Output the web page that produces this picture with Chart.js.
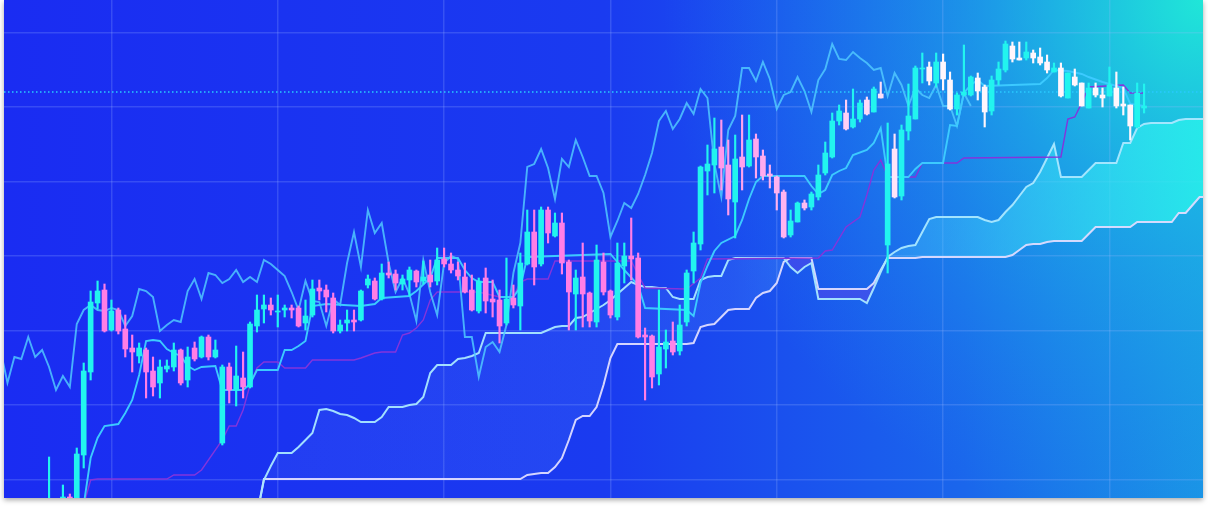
<!DOCTYPE html>
<html>
<head>
<meta charset="utf-8">
<script src="https://cdn.jsdelivr.net/npm/chart.js@4.4.1/dist/chart.umd.min.js"></script>
<style>
  html, body { margin: 0; padding: 0; background: #ffffff; }
  body { width: 1208px; height: 508px; overflow: hidden; position: relative; }
  #frame { position: absolute; left: 4px; top: 0; width: 1199px; height: 498px;
           box-shadow: 0 2px 5px rgba(0, 0, 0, 0.35); }
</style>
</head>
<body>
<div id="frame"><canvas id="chart"></canvas></div>
<script>
// candle data, one entry per period (index 0..158)
const opens = [
  85, 80, 90, 103, 95, 145, 228, 297, 310, 270,
  290, 271, 252, 244, 250, 229, 217, 231, 233, 250,
  220, 252, 243, 263, 243, 157, 233, 210, 222, 213,
  274, 291, 295, 288, 290, 292, 292, 277, 285, 312,
  310, 302, 269, 277, 280, 280, 315, 319, 301, 327,
  326, 316, 320, 329, 319, 325, 319, 341, 336, 330,
  323, 310, 289, 322, 301, 300, 277, 302, 294, 336,
  368, 336, 390, 364, 377, 338, 306, 323, 307, 278,
  338, 309, 283, 334, 344, 342, 265, 264, 226, 251,
  259, 249, 278, 329, 356, 429, 435, 453, 435, 398,
  443, 434, 461, 444, 426, 423, 408, 365, 378, 397,
  393, 403, 427, 443, 479, 487, 473, 481, 500, 488,
  506, 355, 451, 404, 469, 481, 531, 533, 517, 538,
  520, 491, 505, 505, 522, 513, 489, 520, 530, 554,
  542, 542, 547, 543, 538, 528, 532, 502, 523, 517,
  492, 512, 505, 504, 512, 496, 495, 473, 492
];
const highs = [
  143, 98, 115, 106, 152, 237, 309, 319, 316, 300,
  292, 285, 265, 257, 252, 243, 240, 240, 257, 251,
  253, 258, 264, 265, 260, 235, 237, 254, 248, 278,
  305, 305, 302, 305, 295, 295, 294, 300, 320, 320,
  315, 307, 280, 290, 290, 310, 325, 322, 336, 338,
  330, 325, 333, 330, 339, 340, 352, 352, 347, 338,
  337, 325, 322, 332, 320, 310, 342, 315, 347, 390,
  390, 393, 393, 387, 387, 340, 330, 357, 308, 355,
  347, 310, 357, 357, 382, 347, 272, 265, 310, 270,
  278, 295, 330, 368, 434, 455, 482, 480, 460, 465,
  485, 485, 466, 450, 435, 424, 410, 390, 398, 400,
  408, 435, 458, 487, 495, 500, 511, 500, 503, 513,
  518, 477, 466, 475, 516, 534, 547, 538, 547, 546,
  528, 507, 555, 524, 527, 515, 524, 538, 559, 558,
  558, 558, 550, 552, 545, 537, 537, 527, 531, 517,
  517, 517, 512, 533, 528, 513, 495, 517, 516
];
const lows = [
  80, 31, 33, 55, 80, 132, 220, 291, 268, 269,
  266, 243, 228, 237, 202, 204, 202, 228, 229, 215,
  213, 239, 242, 240, 242, 155, 197, 194, 202, 212,
  268, 277, 285, 273, 283, 282, 273, 270, 283, 300,
  288, 267, 267, 269, 269, 279, 312, 300, 300, 322,
  310, 310, 304, 313, 316, 313, 315, 333, 327, 320,
  307, 289, 287, 287, 283, 257, 275, 292, 270, 335,
  315, 334, 357, 363, 326, 270, 270, 273, 273, 273,
  305, 282, 280, 317, 320, 262, 200, 212, 215, 232,
  245, 245, 274, 317, 350, 405, 407, 410, 385, 362,
  410, 433, 422, 420, 412, 390, 362, 363, 378, 390,
  390, 400, 425, 442, 475, 470, 472, 478, 485, 488,
  502, 327, 402, 400, 460, 481, 517, 515, 513, 510,
  490, 485, 504, 504, 500, 473, 485, 515, 528, 538,
  540, 540, 537, 535, 527, 528, 503, 502, 514, 494,
  492, 503, 493, 504, 492, 485, 460, 472, 487
];
const closes = [
  95, 92, 103, 92, 146, 229, 298, 309, 269, 289,
  269, 251, 248, 252, 228, 213, 233, 234, 250, 217,
  243, 241, 263, 243, 250, 233, 210, 224, 213, 276,
  290, 295, 290, 289, 292, 290, 274, 284, 311, 309,
  303, 269, 275, 280, 278, 309, 321, 301, 327, 325,
  317, 321, 330, 318, 323, 318, 340, 336, 330, 324,
  308, 290, 319, 299, 298, 274, 301, 295, 337, 368,
  333, 390, 367, 377, 337, 308, 322, 306, 279, 340,
  308, 285, 337, 344, 341, 263, 263, 223, 253, 258,
  248, 275, 327, 357, 433, 436, 451, 432, 401, 441,
  433, 460, 443, 424, 424, 407, 363, 379, 397, 392,
  406, 425, 447, 479, 489, 471, 481, 497, 486, 511,
  502, 436, 403, 470, 484, 532, 532, 519, 538, 521,
  491, 505, 508, 523, 509, 488, 520, 531, 556, 541,
  540, 548, 542, 537, 530, 532, 504, 527, 515, 494,
  512, 505, 502, 515, 494, 494, 474, 507, 494
];

// conversion line (tenkan) and base line (kijun), read at their corners
const tenkanX = [4, 5, 6, 7, 8, 10, 11, 12, 13, 14, 15, 16, 17, 18, 19, 20, 21, 22, 24, 25,
  28, 29, 30, 33, 34, 35, 36, 37, 38, 40, 45, 47, 48, 52, 53, 55, 56, 59, 60, 61,
  62, 64, 65, 67, 68, 69, 81, 82, 83, 85, 86, 92, 93, 94, 95, 96, 97, 99, 100, 101,
  102, 103, 109, 110, 111, 112, 113, 114, 115, 116, 118, 119, 120, 121, 124, 125, 126, 129, 130, 131,
  132, 133, 134, 135, 143, 144, 145, 147, 149, 150, 152, 154, 155, 156, 158];
const tenkanY = [70, 95, 142, 162, 174, 176, 187, 200, 225, 259, 260, 259, 251, 247, 244, 234, 230, 233, 234, 210,
  210, 216, 230, 230, 250, 250, 254, 259, 294, 296, 294, 296, 302, 304, 309, 322, 342, 342, 330, 322,
  318, 318, 303, 303, 313, 343, 346, 338, 330, 315, 292, 290, 284, 317, 334, 349, 357, 364, 380, 401,
  418, 424, 424, 414, 406, 410, 425, 429, 432, 445, 450, 457, 472, 423, 423, 431, 437, 437, 475, 474,
  507, 515, 520, 514, 516, 522, 530, 529, 526, 523, 518, 514, 512, 496, 494];

const kijunX = [4, 5, 6, 7, 17, 18, 21, 22, 25, 26, 27, 28, 29, 30, 31, 33, 34, 37, 38, 44,
  45, 47, 48, 50, 51, 52, 53, 54, 55, 56, 62, 65, 67, 68, 69, 72, 73, 84, 86, 92,
  94, 95, 111, 112, 113, 115, 117, 118, 119, 120, 121, 122, 125, 126, 131, 132, 146, 147, 148, 149,
  150, 155, 156, 158];
const kijunY = [60, 95, 120, 121, 121, 125, 125, 130, 160, 174, 174, 190, 215, 232, 238, 238, 232, 232, 240, 240,
  242, 247, 248, 248, 265, 267, 272, 280, 300, 308, 308, 303, 303, 318, 321, 321, 339, 339, 312, 311,
  322, 341, 342, 349, 350, 373, 383, 405, 430, 440, 424, 423, 423, 437, 437, 442, 443, 481, 483, 497,
  513, 515, 507, 507];

// leading spans, one value per period from index 30 to 167
const spanStart = 30;
const spanA = [
  85, 120, 134, 147, 147, 147, 153, 160, 167, 190,
  191, 189, 186, 185, 182, 178, 178, 178, 183, 193,
  193, 193, 195, 196, 203, 227, 235, 235, 235, 241,
  242, 244, 247, 267, 267, 267, 267, 267, 267, 267,
  267, 267, 270, 273, 274, 274, 282, 283, 287, 291,
  295, 300, 306, 312, 318, 315, 313, 313, 312, 312,
  303, 301, 301, 301, 320, 323, 324, 324, 340, 342,
  342, 342, 342, 342, 342, 342, 342, 333, 327, 333,
  337, 301, 301, 301, 301, 301, 301, 301, 297, 312,
  328, 343, 348, 352, 354, 355, 368, 381, 383, 383,
  383, 383, 383, 383, 383, 380, 378, 380, 388, 395,
  404, 413, 417, 428, 442, 456, 423, 423, 423, 423,
  430, 437, 437, 437, 437, 457, 457, 472, 476, 477,
  477, 477, 477, 480, 481, 481, 481, 481
];
const spanB = [
  85, 121, 121, 121, 121, 121, 121, 121, 121, 121,
  121, 121, 121, 121, 121, 121, 121, 121, 121, 121,
  121, 121, 121, 121, 121, 121, 121, 121, 121, 121,
  121, 121, 121, 121, 121, 121, 121, 121, 121, 125,
  126, 127, 127, 133, 142, 160, 180, 184, 184, 193,
  215, 242, 256, 256, 256, 256, 256, 256, 256, 256,
  256, 256, 256, 257, 273, 275, 276, 283, 290, 291,
  291, 291, 302, 307, 309, 317, 338, 342, 342, 342,
  342, 311, 311, 311, 311, 311, 311, 311, 311, 317,
  330, 342, 342, 342, 342, 342, 343, 343, 343, 343,
  343, 343, 343, 343, 343, 343, 343, 343, 343, 345,
  350, 355, 356, 356, 358, 359, 359, 359, 359, 359,
  366, 373, 373, 373, 373, 373, 373, 378, 378, 378,
  378, 378, 378, 387, 387, 395, 403, 403
];

const lagShift = 25;      // lagging span = close drawn 25 periods back
const priceLine = 508;    // last price marker
const gridX = [9, 33, 57, 81, 105, 129, 153];
const gridY = [120, 195, 269, 344, 418, 493, 567];

// colours
const upColor = '#22f4ef';
function downColor(i) {
  const t = Math.min(1, Math.max(0, (i - 88) / 40));
  return 'rgb(255,' + Math.round(126 + t * 120) + ',' + Math.round(230 + t * 22) + ')';
}
const candleColors = opens.map((o, i) => closes[i] >= o ? upColor : downColor(i));

const canvas = document.getElementById('chart');
const g2d = canvas.getContext('2d');
const cloudUp = g2d.createLinearGradient(250, 0, 1199, 0);
cloudUp.addColorStop(0, 'rgba(110,150,255,0.10)');
cloudUp.addColorStop(0.5, 'rgba(100,170,255,0.14)');
cloudUp.addColorStop(0.72, 'rgba(70,210,255,0.35)');
cloudUp.addColorStop(1, 'rgba(40,240,235,0.85)');
const cloudDown = 'rgba(85,70,235,0.55)';

const background = {
  id: 'background',
  beforeDraw(chart) {
    const { ctx, width, height } = chart;
    ctx.save();
    const lin = ctx.createLinearGradient(0, 0, width, 0);
    lin.addColorStop(0, '#1a2cf2');
    lin.addColorStop(0.5, '#1a3bf0');
    lin.addColorStop(0.8, '#1a66ec');
    lin.addColorStop(1, '#1a94e6');
    ctx.fillStyle = lin;
    ctx.fillRect(0, 0, width, height);
    const rad = ctx.createRadialGradient(width, 0, 0, width, 0, 540);
    rad.addColorStop(0, 'rgba(32,235,215,0.95)');
    rad.addColorStop(0.4, 'rgba(30,200,228,0.5)');
    rad.addColorStop(1, 'rgba(30,150,235,0)');
    ctx.fillStyle = rad;
    ctx.fillRect(0, 0, width, height);
    ctx.restore();
  }
};

const lineStyle = { type: 'line', pointRadius: 0, pointHitRadius: 0, tension: 0, fill: false };

new Chart(canvas, {
  type: 'bar',
  data: {
    datasets: [
      { type: 'bar', label: 'body', order: 0, grouped: false,
        data: opens.map((o, i) => ({ x: i, y: [o, closes[i]] })),
        backgroundColor: candleColors, barThickness: 5, minBarLength: 1, borderWidth: 0 },
      { type: 'bar', label: 'wick', order: 1, grouped: false,
        data: lows.map((l, i) => ({ x: i, y: [l, highs[i]] })),
        backgroundColor: candleColors, barThickness: 1.5, borderWidth: 0 },
      { ...lineStyle, label: 'price', order: 2,
        data: [{ x: -6.5, y: priceLine }, { x: 166.5, y: priceLine }],
        borderColor: '#28caff', borderWidth: 1.3, borderDash: [1.5, 2.5] },
      { ...lineStyle, label: 'tenkan', order: 3,
        data: tenkanX.map((x, k) => ({ x, y: tenkanY[k] })),
        borderColor: '#3ccaff', borderWidth: 1.9 },
      { ...lineStyle, label: 'lagging', order: 4,
        data: closes.map((c, i) => ({ x: i - lagShift, y: c })),
        borderColor: 'rgba(80,200,255,0.85)', borderWidth: 1.9 },
      { ...lineStyle, label: 'kijun', order: 5,
        data: kijunX.map((x, k) => ({ x, y: kijunY[k] })),
        borderColor: '#8434dc', borderWidth: 1.4 },
      { ...lineStyle, label: 'spanA', order: 6,
        data: spanA.map((v, k) => ({ x: spanStart + k, y: v })),
        borderColor: 'rgba(170,232,255,0.95)', borderWidth: 2,
        fill: { target: '+1', above: cloudUp, below: cloudDown } },
      { ...lineStyle, label: 'spanB', order: 7,
        data: spanB.map((v, k) => ({ x: spanStart + k, y: v })),
        borderColor: 'rgba(222,220,255,0.95)', borderWidth: 2 }
    ]
  },
  options: {
    responsive: true,
    maintainAspectRatio: false,
    animation: false,
    devicePixelRatio: 1,
    events: [],
    layout: { padding: 0 },
    plugins: {
      legend: { display: false },
      tooltip: { enabled: false },
      filler: { drawTime: 'beforeDatasetsDraw' }
    },
    scales: {
      x: {
        type: 'linear', min: -6.5, max: 166.5, offset: false,
        grid: { color: 'rgba(160,185,255,0.22)', lineWidth: 1.5, drawTicks: false, offset: false },
        border: { display: false },
        ticks: { display: false },
        afterBuildTicks: axis => { axis.ticks = gridX.map(v => ({ value: v })); }
      },
      y: {
        type: 'linear', min: 102, max: 600,
        grid: { color: 'rgba(160,185,255,0.22)', lineWidth: 1.5, drawTicks: false },
        border: { display: false },
        ticks: { display: false },
        afterBuildTicks: axis => { axis.ticks = gridY.map(v => ({ value: v })); }
      }
    }
  },
  plugins: [background]
});
</script>
</body>
</html>
